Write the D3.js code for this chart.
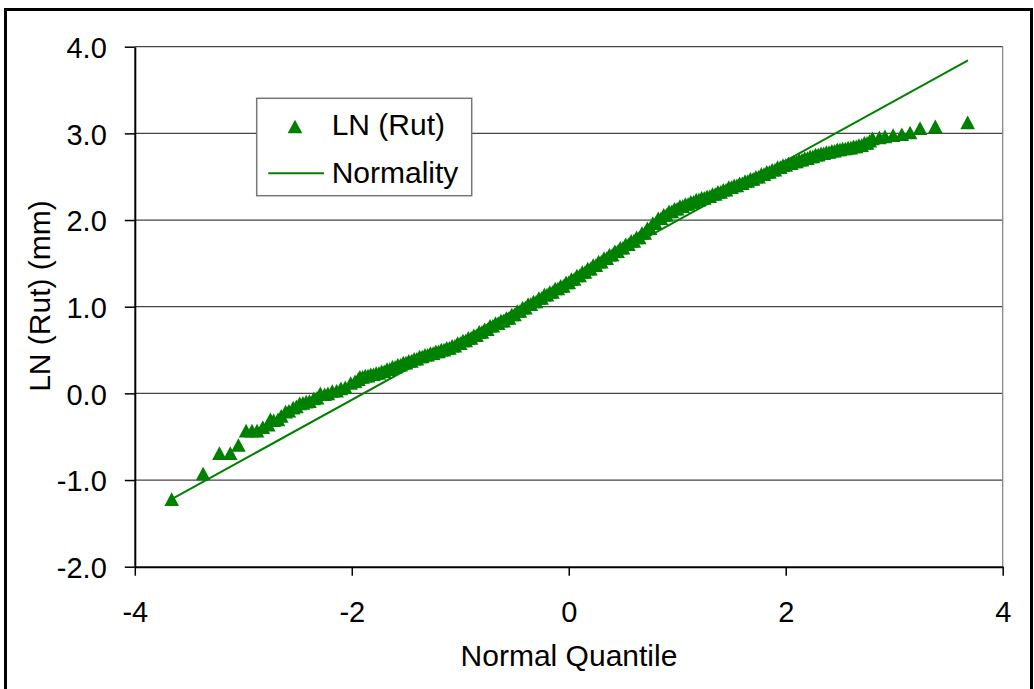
<!DOCTYPE html>
<html>
<head>
<meta charset="utf-8">
<script src="https://cdn.jsdelivr.net/npm/d3@7"></script>
<style>
  body { margin: 0; background: #fff; }
  text { font-family: "Liberation Sans", Arial, sans-serif; fill: #000; }
</style>
</head>
<body>
<div class="canvas"></div>
<script>
// [normal quantile, LN(rut)]
const lowerTail = [
  [-3.66, -1.22], [-3.37, -0.925], [-3.22, -0.69], [-3.12, -0.69], [-3.045, -0.596],
  [-2.974, -0.43], [-2.92, -0.43], [-2.873, -0.43], [-2.82, -0.39], [-2.77, -0.36],
  [-2.75, -0.30], [-2.72, -0.31], [-2.68, -0.30], [-2.65, -0.26], [-2.61, -0.21],
  [-2.58, -0.20], [-2.54, -0.165], [-2.51, -0.15], [-2.48, -0.115], [-2.45, -0.11],
  [-2.42, -0.096], [-2.39, -0.09], [-2.35, -0.058], [-2.32, -0.05], [-2.29, 0.0],
  [-2.25, -0.01], [-2.22, 0.0], [-2.18, 0.027], [-2.14, 0.03], [-2.10, 0.058],
  [-2.06, 0.07], [-2.01, 0.12], [-1.97, 0.14], [-1.94, 0.165]
];

// dense middle part, values come in small steps (runs of equal rut depth)
const body = [
  [-1.925, 0.19], [-1.900, 0.19], [-1.875, 0.205], [-1.850, 0.205], [-1.825, 0.22],
  [-1.800, 0.22], [-1.775, 0.235], [-1.750, 0.235], [-1.725, 0.255], [-1.700, 0.255],
  [-1.675, 0.28], [-1.650, 0.28], [-1.625, 0.305], [-1.600, 0.305], [-1.575, 0.33],
  [-1.550, 0.33], [-1.525, 0.355], [-1.500, 0.355], [-1.475, 0.375], [-1.450, 0.375],
  [-1.425, 0.40], [-1.400, 0.40], [-1.375, 0.425], [-1.350, 0.425], [-1.325, 0.445],
  [-1.300, 0.445], [-1.275, 0.465], [-1.250, 0.465], [-1.225, 0.485], [-1.200, 0.485],
  [-1.175, 0.505], [-1.150, 0.505], [-1.125, 0.525], [-1.100, 0.525], [-1.075, 0.55],
  [-1.050, 0.55], [-1.025, 0.58], [-1.000, 0.58], [-0.975, 0.61], [-0.950, 0.61],
  [-0.925, 0.64], [-0.900, 0.64], [-0.875, 0.67], [-0.850, 0.67], [-0.825, 0.71],
  [-0.800, 0.71], [-0.775, 0.74], [-0.750, 0.74], [-0.725, 0.78], [-0.700, 0.78],
  [-0.675, 0.81], [-0.650, 0.81], [-0.625, 0.84], [-0.600, 0.84], [-0.575, 0.87],
  [-0.550, 0.87], [-0.525, 0.91], [-0.500, 0.91], [-0.475, 0.95], [-0.450, 0.95],
  [-0.425, 0.99], [-0.400, 0.99], [-0.375, 1.03], [-0.350, 1.03], [-0.325, 1.06],
  [-0.300, 1.06], [-0.275, 1.10], [-0.250, 1.10], [-0.225, 1.14], [-0.200, 1.14],
  [-0.175, 1.17], [-0.150, 1.17], [-0.125, 1.21], [-0.100, 1.21], [-0.075, 1.24],
  [-0.050, 1.24], [-0.025, 1.28], [0.000, 1.28], [0.025, 1.32], [0.050, 1.32],
  [0.075, 1.36], [0.100, 1.36], [0.125, 1.40], [0.150, 1.40], [0.175, 1.44],
  [0.200, 1.44], [0.225, 1.48], [0.250, 1.48], [0.275, 1.52], [0.300, 1.52],
  [0.325, 1.56], [0.350, 1.56], [0.375, 1.60], [0.400, 1.60], [0.425, 1.64],
  [0.450, 1.64], [0.475, 1.68], [0.500, 1.68], [0.525, 1.72], [0.550, 1.72],
  [0.575, 1.76], [0.600, 1.76], [0.625, 1.80], [0.650, 1.80], [0.675, 1.85],
  [0.700, 1.85], [0.725, 1.905], [0.750, 1.905], [0.775, 1.965], [0.800, 1.965],
  [0.825, 2.02], [0.850, 2.02], [0.875, 2.06], [0.900, 2.06], [0.925, 2.10],
  [0.950, 2.10], [0.975, 2.13], [1.000, 2.13], [1.025, 2.16], [1.050, 2.16],
  [1.075, 2.185], [1.100, 2.185], [1.125, 2.21], [1.150, 2.21], [1.175, 2.235],
  [1.200, 2.235], [1.225, 2.255], [1.250, 2.255], [1.275, 2.275], [1.300, 2.275],
  [1.325, 2.30], [1.350, 2.30], [1.375, 2.325], [1.400, 2.325], [1.425, 2.35],
  [1.450, 2.35], [1.475, 2.38], [1.500, 2.38], [1.525, 2.40], [1.550, 2.40],
  [1.575, 2.425], [1.600, 2.425], [1.625, 2.45], [1.650, 2.45], [1.675, 2.475],
  [1.700, 2.475], [1.725, 2.50], [1.750, 2.50], [1.775, 2.53], [1.800, 2.53],
  [1.825, 2.555], [1.850, 2.555], [1.875, 2.58], [1.900, 2.58], [1.925, 2.61],
  [1.950, 2.61], [1.975, 2.635], [2.000, 2.635], [2.025, 2.655], [2.050, 2.655],
  [2.075, 2.675], [2.100, 2.675], [2.125, 2.695], [2.150, 2.695], [2.175, 2.715],
  [2.200, 2.715], [2.225, 2.735], [2.250, 2.735], [2.275, 2.755], [2.300, 2.755],
  [2.325, 2.77], [2.350, 2.77], [2.375, 2.785], [2.400, 2.785], [2.425, 2.80],
  [2.450, 2.80], [2.475, 2.815], [2.500, 2.815], [2.525, 2.825], [2.550, 2.825],
  [2.575, 2.835], [2.600, 2.835], [2.625, 2.85], [2.650, 2.85], [2.675, 2.865],
  [2.700, 2.865], [2.725, 2.89], [2.750, 2.89], [2.775, 2.915]
];

const upperTail = [
  [2.80, 2.942], [2.863, 2.954], [2.915, 2.965], [2.99, 2.98], [3.07, 2.99],
  [3.146, 3.01], [3.238, 3.06], [3.379, 3.081], [3.677, 3.127]
];

// fitted normality line, end points
const normalityQ = [-3.66, 3.68];
const normalityY = [-1.22, 3.842];

const yTicks = [-2, -1, 0, 1, 2, 3, 4];
const xTicks = [-4, -2, 0, 2, 4];

const green = "#008000";
const plot = { left: 134.8, right: 1002.7, top: 46.7, bottom: 566.7 };

const svg = d3
  .select(".canvas")
  .append("svg")
  .attr("width", 1034)
  .attr("height", 689);

// outer chart frame
svg
  .append("rect")
  .attr("x", 5.5)
  .attr("y", 9.5)
  .attr("width", 1026)
  .attr("height", 700)
  .attr("fill", "#fff")
  .attr("stroke", "#000")
  .attr("stroke-width", 3);

const x = d3.scaleLinear().domain([-4, 4]).range([plot.left, plot.right]);
const y = d3.scaleLinear().domain([-2, 4]).range([plot.bottom, plot.top]);

// gridlines
svg
  .append("g")
  .selectAll("line")
  .data(yTicks.filter(d => d > -2))
  .enter()
  .append("line")
  .attr("x1", plot.left)
  .attr("x2", plot.right)
  .attr("y1", d => y(d))
  .attr("y2", d => y(d))
  .attr("stroke", "#444")
  .attr("stroke-width", 1.3);

// right edge of plot area
svg
  .append("line")
  .attr("x1", plot.right)
  .attr("x2", plot.right)
  .attr("y1", plot.top)
  .attr("y2", plot.bottom)
  .attr("stroke", "#888")
  .attr("stroke-width", 1.3);

const yAxis = d3
  .axisLeft(y)
  .tickValues(yTicks)
  .tickFormat(d => d.toFixed(1))
  .tickSize(10)
  .tickSizeOuter(0)
  .tickPadding(18);

const xAxis = d3
  .axisBottom(x)
  .tickValues(xTicks)
  .tickFormat(d => String(d))
  .tickSize(9)
  .tickSizeOuter(0)
  .tickPadding(26);

const yAxisGroup = svg
  .append("g")
  .attr("transform", `translate(${plot.left}, 0)`)
  .call(yAxis);

const xAxisGroup = svg
  .append("g")
  .attr("transform", `translate(0, ${plot.bottom})`)
  .call(xAxis);

[yAxisGroup, xAxisGroup].forEach(g => {
  g.select(".domain").attr("stroke", "#000").attr("stroke-width", 2);
  g.selectAll(".tick line").attr("stroke", "#000").attr("stroke-width", 1.5);
  g.selectAll(".tick text")
    .attr("font-family", '"Liberation Sans", Arial, sans-serif')
    .attr("font-size", 29)
    .attr("fill", "#000");
});
yAxisGroup.selectAll(".tick text").attr("dy", "0.37em");

// axis titles
svg
  .append("text")
  .attr("x", 569)
  .attr("y", 666)
  .attr("text-anchor", "middle")
  .attr("font-size", 30)
  .text("Normal Quantile");

svg
  .append("text")
  .attr("transform", "translate(50, 296) rotate(-90)")
  .attr("text-anchor", "middle")
  .attr("font-size", 30)
  .text("LN (Rut) (mm)");

// Excel style triangle marker, centred on its box
const triangle = {
  draw(context, size) {
    const w = Math.sqrt(size);
    const h = w * 0.93;
    context.moveTo(0, -h / 2);
    context.lineTo(w / 2, h / 2);
    context.lineTo(-w / 2, h / 2);
    context.closePath();
  }
};
const marker = d3.symbol().type(triangle).size(215);

// normality line
const line = d3
  .line()
  .x(d => x(d[0]))
  .y(d => y(d[1]));

svg
  .append("path")
  .datum(d3.zip(normalityQ, normalityY))
  .attr("d", line)
  .attr("fill", "none")
  .attr("stroke", green)
  .attr("stroke-width", 2);

// data points
svg
  .append("g")
  .selectAll("path")
  .data(lowerTail.concat(body, upperTail))
  .enter()
  .append("path")
  .attr("d", marker)
  .attr("transform", d => `translate(${x(d[0])}, ${y(d[1])})`)
  .attr("fill", green);

// legend
const legend = svg.append("g");

legend
  .append("rect")
  .attr("x", 256.7)
  .attr("y", 98.3)
  .attr("width", 215)
  .attr("height", 97.4)
  .attr("fill", "#fff")
  .attr("stroke", "#777")
  .attr("stroke-width", 1.5);

legend
  .append("path")
  .attr("d", marker)
  .attr("transform", "translate(295, 126.5)")
  .attr("fill", green);

legend
  .append("line")
  .attr("x1", 268.3)
  .attr("x2", 324)
  .attr("y1", 173.3)
  .attr("y2", 173.3)
  .attr("stroke", green)
  .attr("stroke-width", 2);

legend
  .append("text")
  .attr("x", 331.7)
  .attr("y", 134.8)
  .attr("font-size", 30)
  .text("LN (Rut)");

legend
  .append("text")
  .attr("x", 331.7)
  .attr("y", 182.7)
  .attr("font-size", 30)
  .text("Normality");
</script>
</body>
</html>
